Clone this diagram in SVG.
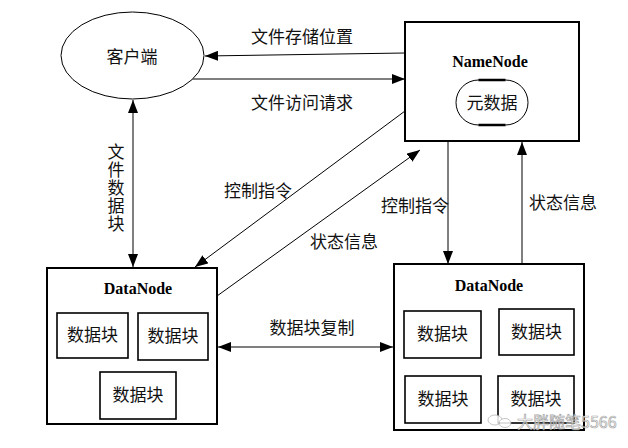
<svg xmlns="http://www.w3.org/2000/svg" width="628" height="448" viewBox="0 0 628 448">
<style>
.box{fill:#fff;stroke:#000;stroke-width:2}
.blk{fill:#fff;stroke:#000;stroke-width:1.6}
.ln{fill:none;stroke:#000;stroke-width:1}
.cn{font-family:"Noto Sans CJK SC","Noto Sans CJK JP",sans-serif;font-size:17px;fill:#111;text-anchor:middle}
.vt{font-family:"Noto Sans CJK SC","Noto Sans CJK JP",sans-serif;font-size:17px;fill:#111;writing-mode:vertical-rl;letter-spacing:1px}
.en{font-family:"Liberation Serif",serif;font-size:16px;font-weight:bold;fill:#000;text-anchor:middle}
.wm{font-family:"Noto Sans CJK SC",sans-serif;font-size:16px;fill:#fff;stroke:#999;stroke-width:0.7}
</style>
<defs>
<marker id="ah" viewBox="0 0 13 10" refX="13" refY="5" markerWidth="13" markerHeight="10" markerUnits="userSpaceOnUse" orient="auto-start-reverse">
<path d="M0,0 L13,5 L0,10 z" fill="#000"/>
</marker>
</defs>
<rect width="628" height="448" fill="#fff"/>
<g id="connectors">
<line class="ln" x1="405" y1="53" x2="205" y2="56" marker-end="url(#ah)"/>
<line class="ln" x1="192" y1="79" x2="405" y2="79" marker-end="url(#ah)"/>
<line class="ln" x1="133" y1="100" x2="133" y2="267" marker-start="url(#ah)" marker-end="url(#ah)"/>
<line class="ln" x1="405" y1="111" x2="195" y2="267" marker-end="url(#ah)"/>
<line class="ln" x1="217" y1="296" x2="420" y2="150" marker-end="url(#ah)"/>
<line class="ln" x1="448" y1="142" x2="448" y2="264" marker-end="url(#ah)"/>
<line class="ln" x1="522" y1="264" x2="522" y2="142" marker-end="url(#ah)"/>
<line class="ln" x1="218" y1="347" x2="393" y2="347" marker-start="url(#ah)" marker-end="url(#ah)"/>
<text class="cn" x="302" y="43">文件存储位置</text>
<text class="cn" x="302" y="109">文件访问请求</text>
<text class="vt" x="116" y="143">文件数据块</text>
<text class="cn" x="258" y="197">控制指令</text>
<text class="cn" x="344" y="248">状态信息</text>
<text class="cn" x="415" y="212">控制指令</text>
<text class="cn" x="563" y="209">状态信息</text>
<text class="cn" x="312" y="334">数据块复制</text>
</g>
<g id="client">
<ellipse cx="132.5" cy="55.5" rx="71.5" ry="43.5" fill="#fff" stroke="#000" stroke-width="1"/>
<text class="cn" x="132" y="63">客户端</text>
</g>
<g id="namenode">
<rect class="box" x="405" y="22" width="174" height="119"/>
<text class="en" x="490" y="67">NameNode</text>
<path d="M478.5,80 H505.5 A22.5,22.5 0 0 1 505.5,125 H478.5 A22.5,22.5 0 0 1 478.5,80 Z" fill="#fff" stroke="#000" stroke-width="1"/>
<path d="M478.5,80 H505.5 M478.5,125 H505.5" stroke="#000" stroke-width="2.5"/>
<text class="cn" x="492" y="109">元数据</text>
</g>
<g id="datanode-left">
<rect class="box" x="47" y="268" width="170" height="156"/>
<text class="en" x="138" y="294">DataNode</text>
<rect class="blk" x="57" y="313" width="71" height="45"/>
<text class="cn" x="92.5" y="341">数据块</text>
<rect class="blk" x="138" y="313" width="70" height="47"/>
<text class="cn" x="173" y="342">数据块</text>
<rect class="blk" x="100" y="372" width="76" height="47"/>
<text class="cn" x="138" y="401">数据块</text>
</g>
<g id="datanode-right">
<rect class="box" x="394" y="264" width="190" height="166"/>
<text class="en" x="489" y="291">DataNode</text>
<rect class="blk" x="404" y="311" width="77" height="47"/>
<text class="cn" x="442.5" y="340">数据块</text>
<rect class="blk" x="499" y="309" width="75" height="46"/>
<text class="cn" x="536.5" y="338">数据块</text>
<rect class="blk" x="405" y="376" width="76" height="47"/>
<text class="cn" x="443" y="405">数据块</text>
<rect class="blk" x="498" y="376" width="76" height="47"/>
<text class="cn" x="536" y="405">数据块</text>
</g>
<g id="watermark" opacity="0.85">
<ellipse cx="495" cy="420" rx="7" ry="5" fill="#fff" stroke="#aaa" stroke-width="0.8"/>
<ellipse cx="505" cy="423" rx="6" ry="4.5" fill="#fff" stroke="#aaa" stroke-width="0.8"/>
<text class="wm" x="517" y="428">大胖随笔5566</text>
</g>
</svg>
